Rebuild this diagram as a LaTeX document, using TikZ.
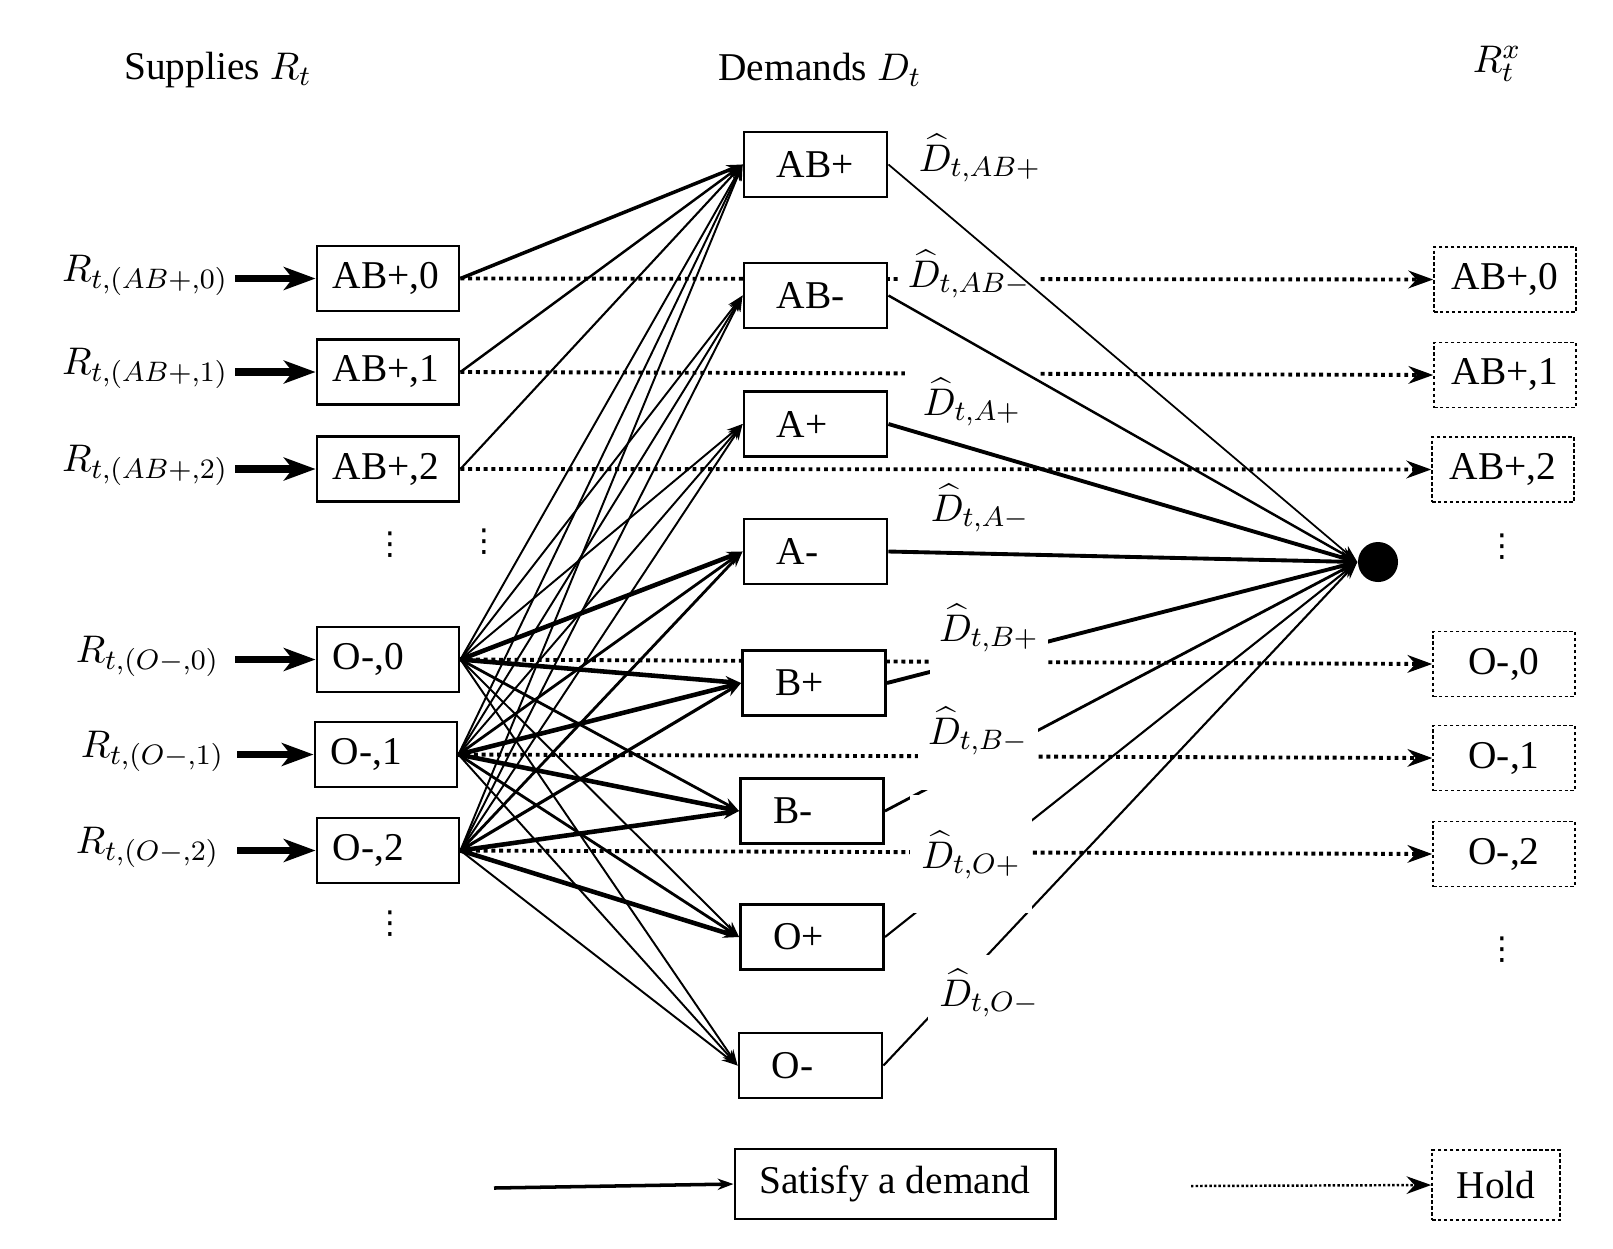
\documentclass[tikz,border=0pt]{standalone}
\usepackage{fontspec}
\setmainfont{Liberation Serif}
\newfontfamily\dvsans{DejaVu Sans}
\usetikzlibrary{arrows.meta}
\pgfdeclarelayer{bg}
\pgfsetlayers{bg,main}
\begin{document}
\begin{tikzpicture}[x=0.01cm,y=-0.01cm,
  every node/.style={font=\fontsize{11.2}{13}\selectfont},
  sbox/.style={draw, line width=0.8pt, fill=white, minimum height=0.65cm, inner ysep=0, inner xsep=0.16cm, text width=1.1cm, align=left},
  dbox/.style={draw, line width=0.8pt, fill=white, minimum height=0.65cm, inner ysep=0, inner xsep=0.33cm, text width=0.77cm, align=left},
  hbox/.style={draw, line width=0.45pt, dash pattern=on 1pt off 0.7pt, fill=white, minimum width=1.42cm, minimum height=0.65cm, inner sep=0},
  hlab/.style={fill=white, inner sep=0, anchor=base},
  rlab/.style={anchor=base east, inner sep=0},
  vdt/.style={inner sep=0, font=\dvsans\fontsize{9}{9}\selectfont},
  fan/.style={-{Stealth[length=4.5pt,width=3.2pt]}, line width=#1},
  tosink/.style={-{Stealth[length=5pt,width=3.5pt]}, line width=#1},
  holdarrow/.style={line width=1.1pt, dash pattern=on 1.1pt off 1.1pt, -{Stealth[length=7pt,width=5pt]}},
  inarrow/.style={line width=2pt, -{Stealth[length=9pt,width=6.5pt,inset=2.5pt]}}
]
\useasboundingbox (0,0) rectangle (1613,1248);

% titles
\node (tS) at (218,70) {Supplies $R_t$};
\node (tD) at (820,70) {Demands $D_t$};
\node (tX) at (1497,64) {$R^x_t$};

% supply boxes
\node[sbox] (s0) at (388,278.5) {AB+,0};
\node[sbox] (s1) at (388,372) {AB+,1};
\node[sbox] (s2) at (388,469) {AB+,2};
\node[sbox] (o0) at (388,659.5) {O-,0};
\node[sbox] (o1) at (386,754.5) {O-,1};
\node[sbox] (o2) at (388,850.5) {O-,2};

% supply labels
\node[rlab] (rs0) at (229,281) {$R_{t,(AB+,0)}$};
\node[rlab] (rs1) at (229,374) {$R_{t,(AB+,1)}$};
\node[rlab] (rs2) at (229,471) {$R_{t,(AB+,2)}$};
\node[rlab] (ro0) at (220,662) {$R_{t,(O-,0)}$};
\node[rlab] (ro1) at (225,757) {$R_{t,(O-,1)}$};
\node[rlab] (ro2) at (220,853) {$R_{t,(O-,2)}$};
\coordinate (a0) at (235,278.5);
\coordinate (a1) at (235,372);
\coordinate (a2) at (235,469);
\coordinate (b0) at (235,659.5);
\coordinate (b1) at (237,754.5);
\coordinate (b2) at (237,850.5);

% demand boxes
\node[dbox] (dABp) at (815.5,164.5) {AB+};
\node[dbox] (dABm) at (815.5,295.5) {AB-};
\node[dbox] (dAp) at (815.5,424) {A+};
\node[dbox] (dAm) at (815.5,551.5) {A-};
\node[dbox] (dBp) at (814,683) {B+};
\node[dbox] (dBm) at (812,811) {B-};
\node[dbox] (dOp) at (812,937) {O+};
\node[dbox] (dOm) at (810.5,1065.5) {O-};

% hold boxes
\node[hbox] (hs0) at (1505,279.5) {AB+,0};
\node[hbox] (hs1) at (1505,375) {AB+,1};
\node[hbox] (hs2) at (1503,469.5) {AB+,2};
\node[hbox] (ho0) at (1504,664) {O-,0};
\node[hbox] (ho1) at (1504,758) {O-,1};
\node[hbox] (ho2) at (1504,854) {O-,2};

% sink
\node[circle, fill=black, minimum size=0.4cm, inner sep=0] (sink) at (1378,562) {};

% demand labels (white backgrounds)
\node[hlab, text height=0.31cm, text depth=0.12cm, minimum width=1.2cm] (lABp) at (980,171) {$\widehat{D}_{t,AB+}$};
\node[hlab, text height=0.37cm, text depth=0.13cm, minimum width=1.41cm] (lABm) at (969,287) {$\widehat{D}_{t,AB-}$};
\node[hlab, text height=0.53cm, text depth=0.17cm, minimum width=1.34cm] (lAp) at (972,415) {$\widehat{D}_{t,A+}$};
\node[hlab, text height=0.49cm, text depth=0.16cm, minimum width=1.3cm] (lAm) at (980,521) {$\widehat{D}_{t,A-}$};
\node[hlab, text height=0.41cm, text depth=0.37cm, minimum width=1.18cm] (lBp) at (989,641) {$\widehat{D}_{t,B+}$};
\node[hlab, text height=0.44cm, text depth=0.46cm, minimum width=1.19cm] (lBm) at (978,744) {$\widehat{D}_{t,B-}$};
\node[hlab, text height=0.73cm, text depth=0.45cm, minimum width=1.22cm] (lOp) at (971,868) {$\widehat{D}_{t,O+}$};
\node[hlab, text height=0.51cm, text depth=0.24cm, minimum width=1.22cm] (lOm) at (989,1006) {$\widehat{D}_{t,O-}$};

% vertical dots
\node[vdt] (v1) at (390,545) {⋮};
\node[vdt] (v2) at (484,542) {⋮};
\node[vdt] (v3) at (390,924) {⋮};
\node[vdt] (v4) at (1502,547) {⋮};
\node[vdt] (v5) at (1502,950) {⋮};

% legend
\coordinate (lg1) at (494,1188);
\node[draw, line width=0.8pt, fill=white, minimum width=3.2cm, minimum height=0.7cm, inner sep=0] (sat) at (895,1184) {Satisfy a demand};
\coordinate (lg2) at (1191,1186);
\node[hbox, minimum width=1.28cm, minimum height=0.7cm] (hold) at (1496,1185) {Hold};

\begin{pgfonlayer}{bg}
  \draw[holdarrow] (s0.east) -- (hs0.west);
  \draw[holdarrow] (s1.east) -- (hs1.west);
  \draw[holdarrow] (s2.east) -- (hs2.west);
  \draw[holdarrow] (o0.east) -- (ho0.west);
  \draw[holdarrow] (o1.east) -- (ho1.west);
  \draw[holdarrow] (o2.east) -- (ho2.west);
  \draw[tosink=1.1pt] (dBp.east) -- (sink.west);
  \draw[tosink=0.8pt] (dBm.east) -- (sink.west);
  \draw[tosink=0.6pt] (dOp.east) -- (sink.west);
  \draw[tosink=0.6pt] (dOm.east) -- (sink.west);
\end{pgfonlayer}

% upper demand-to-sink lines
\draw[tosink=0.5pt] (dABp.east) -- (sink.west);
\draw[tosink=0.7pt] (dABm.east) -- (sink.west);
\draw[tosink=1.1pt] (dAp.east) -- (sink.west);
\draw[tosink=1.1pt] (dAm.east) -- (sink.west);

% input arrows
\draw[inarrow] (a0) -- (s0.west);
\draw[inarrow] (a1) -- (s1.west);
\draw[inarrow] (a2) -- (s2.west);
\draw[inarrow] (b0) -- (o0.west);
\draw[inarrow] (b1) -- (o1.west);
\draw[inarrow] (b2) -- (o2.west);

% fan: AB+ supplies
\draw[fan=1pt] (s0.east) -- (dABp.west);
\draw[fan=0.7pt] (s1.east) -- (dABp.west);
\draw[fan=0.6pt] (s2.east) -- (dABp.west);

% fan: O- supplies
\foreach \s/\d/\w in {
  o0/dABp/0.55pt, o0/dABm/0.55pt, o0/dAp/0.55pt, o0/dAm/1.3pt, o0/dBp/1.3pt, o0/dBm/0.8pt, o0/dOp/0.55pt, o0/dOm/0.55pt,
  o1/dABp/0.55pt, o1/dABm/0.55pt, o1/dAp/0.55pt, o1/dAm/0.8pt, o1/dBp/1.3pt, o1/dBm/1.3pt, o1/dOp/0.8pt, o1/dOm/0.55pt,
  o2/dABp/0.55pt, o2/dABm/0.55pt, o2/dAp/0.55pt, o2/dAm/0.8pt, o2/dBp/0.9pt, o2/dBm/1.3pt, o2/dOp/1.3pt, o2/dOm/0.55pt}
  \draw[fan=\w] (\s.east) -- (\d.west);

% legend arrows
\draw[fan=1pt] (lg1) -- (sat.west);
\draw[holdarrow, line width=0.7pt, dash pattern=on 0.7pt off 0.6pt] (lg2) -- (hold.west);
\end{tikzpicture}
\end{document}
